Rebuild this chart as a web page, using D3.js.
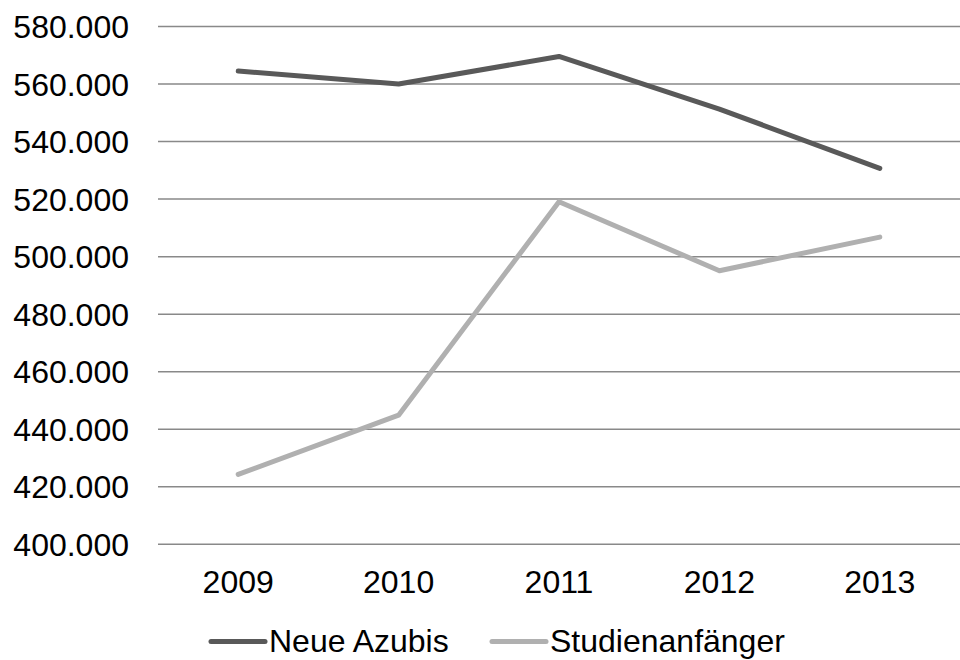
<!DOCTYPE html>
<html><head><meta charset="utf-8">
<script src="https://cdn.jsdelivr.net/npm/d3@7"></script>
<style>body{margin:0;background:#fff}svg{display:block}text{font-family:"Liberation Sans",Arial,sans-serif;fill:#000}</style>
</head><body><svg id="c" width="960" height="660"></svg>
<script>
const years = ["2009","2010","2011","2012","2013"];
const neueAzubis = [564.5, 560.0, 569.6, 551.3, 530.7];
const studienanfaenger = [424.3, 444.9, 519.1, 495.1, 506.8];
const yTicks = [400,420,440,460,480,500,520,540,560,580];
const seriesNames = ["Neue Azubis","Studienanfänger"];
const seriesColors = ["#595959","#b0b0b0"];

const svg = d3.select("#c");
const fs = 32;
const x = d3.scaleBand().domain(years).range([158,960]);
const y = d3.scaleLinear().domain([400,580]).range([544.3,26.5]);

const grid = svg.append("g");
grid.selectAll("line").data(yTicks).join("line")
  .attr("x1",158).attr("x2",960)
  .attr("y1",d=>y(d)).attr("y2",d=>y(d))
  .attr("stroke","#898989").attr("stroke-width",1.5);

const fmt = d => d3.format(".3f")(d).replace(",", "");
svg.append("g").selectAll("text").data(yTicks).join("text")
  .attr("x",129).attr("y",d=>y(d)).attr("dy","0.36em")
  .attr("text-anchor","end").attr("font-size",fs)
  .text(d=>fmt(d));

svg.append("g").selectAll("text").data(years).join("text")
  .attr("x",d=>x(d)+x.bandwidth()/2).attr("y",593)
  .attr("text-anchor","middle").attr("font-size",fs)
  .text(d=>d);

const series = [neueAzubis, studienanfaenger];
const line = d3.line().x((d,i)=>x(years[i])+x.bandwidth()/2).y(d=>y(d));
series.forEach((s,k)=>{
  svg.append("path").datum(s).attr("d",line)
    .attr("fill","none").attr("stroke",seriesColors[k])
    .attr("stroke-width",5).attr("stroke-linecap","round").attr("stroke-linejoin","round");
});

const legX = [211, 492];
seriesNames.forEach((n,k)=>{
  svg.append("line").attr("x1",legX[k]).attr("x2",legX[k]+54)
    .attr("y1",641.5).attr("y2",641.5)
    .attr("stroke",seriesColors[k]).attr("stroke-width",5).attr("stroke-linecap","round");
  svg.append("text").attr("x",legX[k]+58).attr("y",652)
    .attr("font-size",fs).text(n);
});
</script></body></html>
